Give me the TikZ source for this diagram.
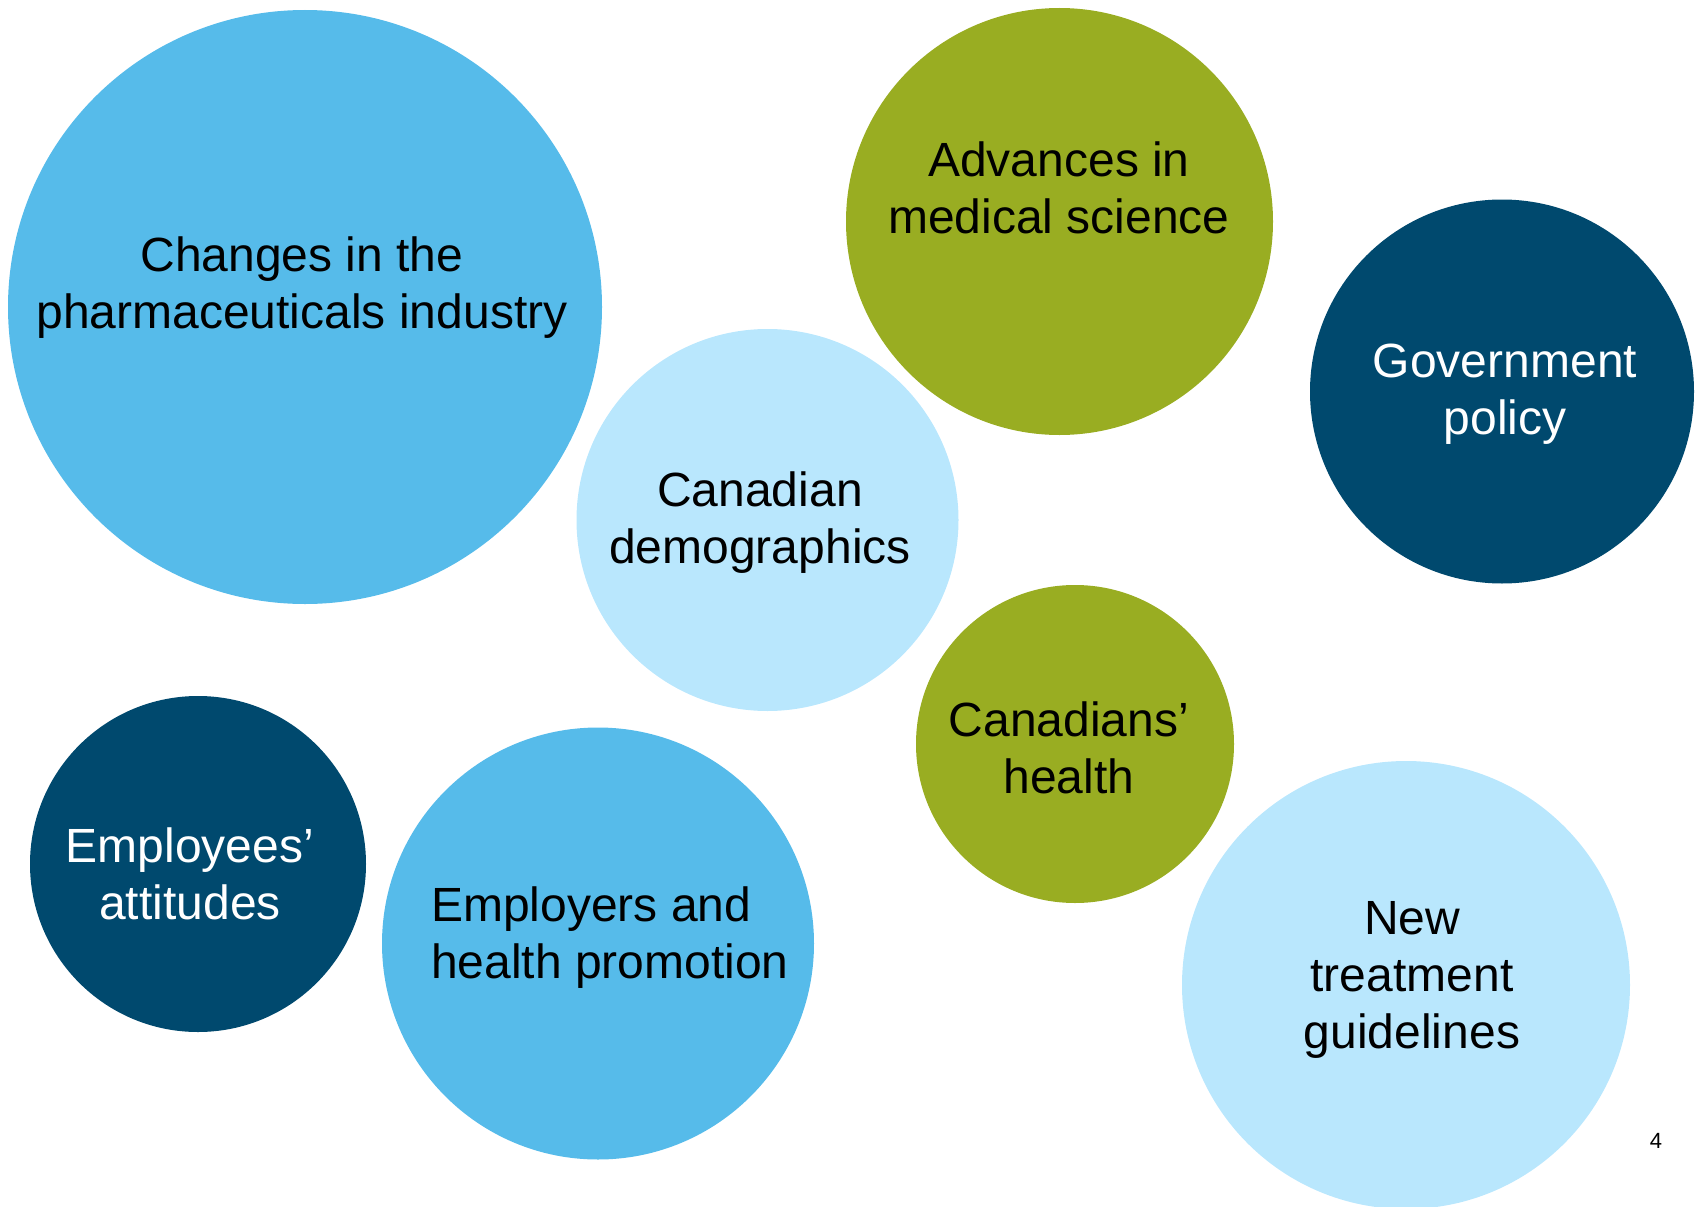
\documentclass[tikz,border=0pt]{standalone}
\usepackage{fontspec}
\setmainfont{Liberation Sans}
\definecolor{skyblue}{RGB}{86,187,234}
\definecolor{olive}{RGB}{153,173,34}
\definecolor{navy}{RGB}{0,73,110}
\definecolor{paleblue}{RGB}{185,231,253}
\newcommand\bubbletext[2][c]{\begin{tabular}[t]{@{}#1@{}}#2\end{tabular}}
\begin{document}
\begin{tikzpicture}[x=1pt,y=-1pt,
  bubble/.style={circle,draw=none,inner sep=0pt,minimum size=#1},
  label/.style={anchor=base,inner sep=0pt,font=\fontsize{48}{57}\selectfont},
  darklabel/.style={label,text=black},
  lightlabel/.style={label,text=white}]
  \useasboundingbox (0,0) rectangle (1698,1207);
  \clip (0,0) rectangle (1698,1207);
  % bubbles
  \node[bubble=594pt,fill=skyblue]  (pharma)   at (305,307)     {};
  \node[bubble=427pt,fill=olive]    (science)  at (1059.5,221.5) {};
  \node[bubble=384pt,fill=navy]     (policy)   at (1502,391.5)  {};
  \node[bubble=382pt,fill=paleblue] (demo)     at (767.5,520)   {};
  \node[bubble=318pt,fill=olive]    (health)   at (1075,744)    {};
  \node[bubble=336pt,fill=navy]     (attitude) at (198,864)     {};
  \node[bubble=432pt,fill=skyblue]  (promo)    at (598,943.5)   {};
  \node[bubble=448pt,fill=paleblue] (guide)    at (1406,985)    {};
  % labels
  \node[darklabel]  (pharmaT)    at (302,271)  {\bubbletext{Changes in the\\pharmaceuticals industry}};
  \node[darklabel]  (scienceT)   at (1059,176) {\bubbletext{Advances in\\medical science}};
  \node[lightlabel] (policyT)    at (1505,377) {\bubbletext{Government\\policy}};
  \node[darklabel]  (demoT)      at (760,506)  {\bubbletext{Canadian\\demographics}};
  \node[darklabel]  (healthT)    at (1069,736) {\bubbletext{Canadians’\\health}};
  \node[lightlabel] (attitudeT)  at (190,862)  {\bubbletext{Employees’\\attitudes}};
  \node[darklabel,anchor=base west] (promoT) at (431,921) {\bubbletext[l]{Employers and\\health promotion}};
  \node[darklabel]  (guideT)     at (1412,934) {\bubbletext{New\\treatment\\guidelines}};
  % page number
  \node[anchor=base,inner sep=0pt,font=\fontsize{22}{26}\selectfont] (pagenum) at (1656,1148) {4};
\end{tikzpicture}
\end{document}
